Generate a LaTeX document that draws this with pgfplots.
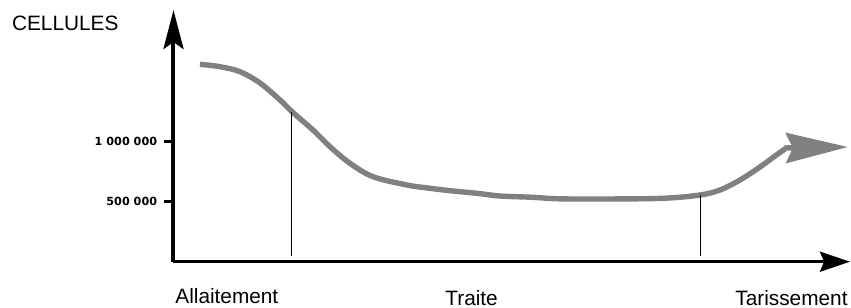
\documentclass[border=0pt]{standalone}
\usepackage{pgfplots}
\pgfplotsset{compat=1.18}
\usepackage{fontspec}
\setmainfont{Liberation Sans}
\newfontfamily\tickfont{DejaVu Sans}
\usetikzlibrary{arrows.meta}
\definecolor{curvegray}{RGB}{128,128,128}
\begin{document}
\begin{tikzpicture}
\begin{axis}[
  scale only axis,
  width=338.25pt, height=125.85pt,
  xmin=0, xmax=676.5, ymin=0, ymax=2087000,
  enlargelimits=false,
  clip=false,
  axis lines=left,
  x axis line style={line width=1.5pt, -{Stealth[length=15pt,width=10pt,inset=2pt]}},
  y axis line style={line width=2pt, -{Stealth[length=19.5pt,width=10pt,inset=3.5pt]}},
  xtick=\empty,
  ytick={500000,1000000},
  yticklabels={500 000, 1 000 000},
  tick align=outside,
  major tick length=4.5pt,
  every tick/.style={black, line width=1.5pt},
  yticklabel style={font=\tickfont\bfseries\fontsize{5.6}{6}\selectfont, anchor=east, inner sep=0pt, xshift=-3.5pt},
  scaled y ticks=false,
]
\addplot[curvegray, line width=2.7pt, smooth, tension=0.55] coordinates {
  (26.5,1636800) (46.5,1616900) (66.5,1575500) (86.5,1481800) (106.5,1340800)
  (118.5,1243800) (139.5,1092000) (156.5,953600) (176.5,815900) (199.5,704800)
  (233.5,636000) (256.5,608600) (279.5,586200) (303.5,567200) (326.5,544800)
  (359.5,534000) (383.5,521900) (426.5,519900) (489.5,525700) (526.5,553100)
  (546.5,594500) (566.5,677400) (586.5,785300) (601.5,876400) (611.5,934500)
};
\addplot[curvegray, line width=2.7pt, -{Stealth[length=31pt,width=15pt,inset=3.5pt]}] coordinates {
  (610.5,942800) (674.5,951100)
};
\addplot[black, line width=0.5pt] coordinates {(118.5,1243800) (118.5,47300)};
\addplot[black, line width=0.5pt] coordinates {(526.5,553100) (526.5,47300)};
\end{axis}
\node[anchor=base west, inner sep=0pt, font=\fontsize{10.4}{12}\selectfont] at (-80.9pt,115.85pt) {CELLULES};
\node[anchor=base west, inner sep=0pt, font=\fontsize{10.4}{12}\selectfont] at (0.75pt,-20.65pt) {Allaitement};
\node[anchor=base west, inner sep=0pt, font=\fontsize{10.4}{12}\selectfont] at (135.75pt,-21.8pt) {Traite};
\node[anchor=base west, inner sep=0pt, font=\fontsize{10.4}{12}\selectfont] at (280.75pt,-21.65pt) {Tarissement};
\pgfresetboundingbox
\path[use as bounding box] (-86.75pt,-22.65pt) rectangle (338.75pt,130.85pt);
\end{tikzpicture}
\end{document}
